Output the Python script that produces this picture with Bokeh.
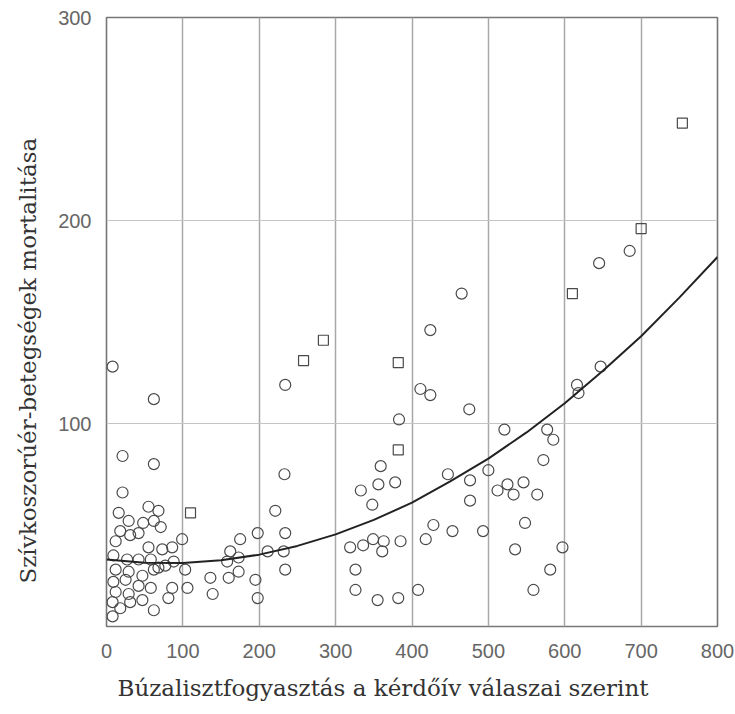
from bokeh.plotting import figure
from bokeh.models import Range1d, FixedTicker, Title
from bokeh.embed import file_html
from bokeh.resources import INLINE

# --- data ---
circle_x = [8, 62, 234, 465, 645, 685, 21, 62, 233, 21, 221, 55, 68, 16, 29, 48, 62, 71, 42, 18,
            31, 12, 55, 73, 86, 99, 9, 27, 42, 58, 68, 12, 29, 47, 62, 77, 88, 9, 25, 42,
            58, 12, 29, 47, 8, 18, 8, 86, 81, 106, 103, 62, 31, 136, 139, 158, 162, 175, 173, 160,
            173, 198, 195, 198, 211, 232, 234, 234, 424, 411, 424, 475, 383, 521, 577, 585, 572, 359, 447, 500,
            356, 378, 476, 333, 525, 512, 533, 546, 564, 348, 476, 548, 428, 453, 493, 418, 319, 336, 349, 363,
            361, 385, 535, 326, 581, 326, 355, 382, 408, 559, 597, 647, 616, 618]
circle_y = [128, 112, 119, 164, 179, 185, 84, 80, 75, 66, 57, 59, 57, 56, 52, 51, 52, 49, 46, 47,
            45, 42, 39, 38, 39, 43, 35, 33, 33, 33, 29, 28, 27, 25, 28, 30, 32, 22, 23, 20,
            19, 17, 16, 13, 12, 9, 5, 19, 14, 19, 28, 8, 12, 24, 16, 32, 37, 43, 34, 24,
            27, 46, 23, 14, 37, 37, 46, 28, 146, 117, 114, 107, 102, 97, 97, 92, 82, 79, 75, 77,
            70, 71, 72, 67, 70, 67, 65, 71, 65, 60, 62, 51, 50, 47, 47, 43, 39, 40, 43, 42,
            37, 42, 38, 28, 28, 18, 13, 14, 18, 18, 39, 128, 119, 115]
square_x = [754, 700, 284, 258, 610, 382, 382, 110]
square_y = [248, 196, 141, 131, 164, 130, 87, 56]

curve_x = [0, 50, 100, 150, 200, 250, 300, 350, 400, 450, 500, 550, 600, 650, 700, 750, 800]
curve_y = [33, 31.4, 31.3, 32.6, 35.4, 39.7, 45.4, 52.5, 61, 71.5, 82.7, 95.6, 110, 126, 143, 162, 182]

x_ticks = [0, 100, 200, 300, 400, 500, 600, 700, 800]
y_ticks = [100, 200, 300]

x_title = "Búzalisztfogyasztás a kérdőív válaszai szerint"
y_title = "Szívkoszorúér-betegségek mortalitása"

p = figure(width=735, height=714, output_backend="svg", toolbar_location=None,
           x_range=Range1d(0, 800), y_range=Range1d(0, 300),
           min_border_left=106, min_border_right=18, min_border_top=17, min_border_bottom=88)

p.background_fill_color = "white"
p.border_fill_color = "white"
p.outline_line_color = "#777777"
p.outline_line_width = 1.6

for ax in (p.xaxis[0], p.yaxis[0]):
    ax.axis_line_color = None
    ax.major_tick_line_color = None
    ax.minor_tick_line_color = None
    ax.major_tick_out = 0
    ax.major_tick_in = 0
    ax.major_label_text_font = "Liberation Sans"
    ax.major_label_text_font_size = "20px"
    ax.major_label_text_color = "#666666"

p.xaxis[0].ticker = FixedTicker(ticks=x_ticks)
p.yaxis[0].ticker = FixedTicker(ticks=y_ticks)
p.xaxis[0].major_label_standoff = 17
p.yaxis[0].major_label_standoff = 15

p.xgrid.grid_line_color = "#a8a8a8"
p.xgrid.grid_line_width = 1.5
p.ygrid.grid_line_color = "#c4c4c4"
p.ygrid.grid_line_width = 1.2

p.scatter(circle_x, circle_y, marker="circle", size=11, fill_color=None,
          line_color="#4a4a4a", line_width=1.2)
p.scatter(square_x, square_y, marker="square", size=10, fill_color=None,
          line_color="#4a4a4a", line_width=1.2)

p.line(curve_x, curve_y, line_color="#222222", line_width=2)

p.add_layout(Title(text=x_title, align="left", offset=11, standoff=24,
                   text_font="DejaVu Serif", text_font_size="23px", text_font_style="normal",
                   text_color="#333333"), "below")
p.add_layout(Title(text=y_title, align="left", offset=43, standoff=27, vertical_align="middle",
                   text_font="DejaVu Serif", text_font_size="23px", text_font_style="normal",
                   text_color="#333333"), "left")

open("out.html", "w").write(file_html(p, INLINE))
